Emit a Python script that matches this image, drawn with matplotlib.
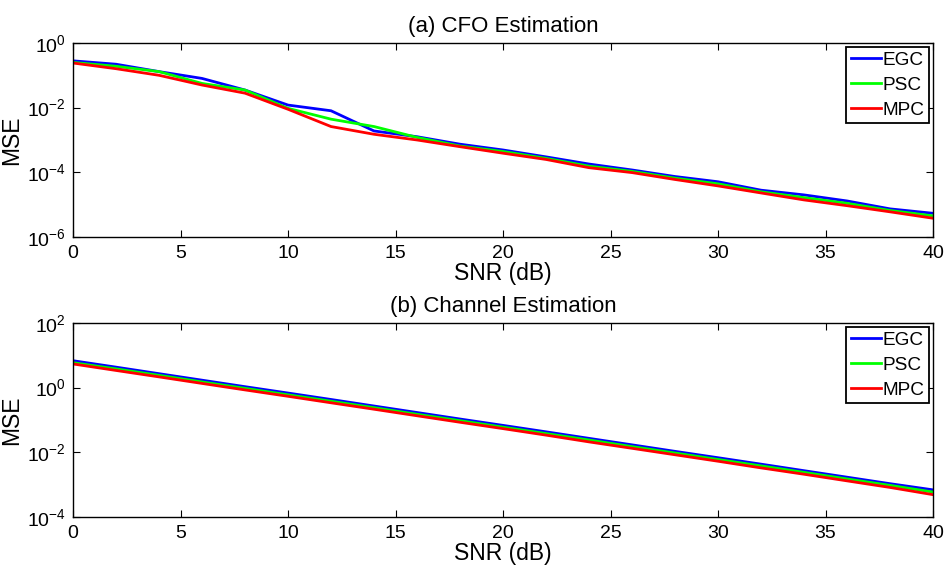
import matplotlib
matplotlib.use("Agg")
import matplotlib.pyplot as plt

plt.rcParams['font.family'] = ['Liberation Sans', 'DejaVu Sans']
plt.rcParams['mathtext.fontset'] = 'custom'
plt.rcParams['mathtext.rm'] = 'Liberation Sans'
plt.rcParams['mathtext.it'] = 'Liberation Sans'

snr = [0, 2, 4, 6, 8, 10, 12, 14, 16, 18, 20, 22, 24, 26, 28, 30, 32, 34, 36, 38, 40]

# (a) CFO estimation MSE
cfo_egc = [0.28, 0.22, 0.13, 0.080, 0.035, 0.012, 0.0080, 0.0019, 0.00126, 7.4e-4, 4.9e-4,
           3.0e-4, 1.8e-4, 1.18e-4, 7.4e-5, 5.1e-5, 2.8e-5, 2.0e-5, 1.3e-5, 7.4e-6, 5.4e-6]
cfo_psc = [0.25, 0.19, 0.13, 0.056, 0.035, 0.0095, 0.0044, 0.0026, 0.0012, 6.5e-4, 4.4e-4,
           2.7e-4, 1.55e-4, 1.07e-4, 6.6e-5, 4.4e-5, 2.5e-5, 1.65e-5, 1.1e-5, 6.6e-6, 4.5e-6]
cfo_mpc = [0.24, 0.16, 0.10, 0.050, 0.028, 0.0089, 0.0026, 0.0015, 0.0010, 6.2e-4, 3.9e-4,
           2.5e-4, 1.39e-4, 9.8e-5, 6.0e-5, 3.8e-5, 2.3e-5, 1.4e-5, 9.3e-6, 6.0e-6, 3.8e-6]

# (b) Channel estimation MSE
ch_egc = [6.8, 4.3, 2.7, 1.7, 1.07, 0.68, 0.43, 0.27, 0.17, 0.107, 0.068,
          0.043, 0.027, 0.017, 0.0107, 0.0068, 0.0043, 0.0027, 0.0017, 0.00107, 0.00069]
ch_psc = [5.9, 3.8, 2.4, 1.5, 0.95, 0.60, 0.38, 0.24, 0.15, 0.095, 0.060,
          0.038, 0.024, 0.015, 0.0095, 0.0060, 0.0038, 0.0024, 0.0015, 0.00095, 0.00059]
ch_mpc = [5.4, 3.4, 2.15, 1.35, 0.85, 0.54, 0.34, 0.215, 0.135, 0.085, 0.054,
          0.034, 0.021, 0.0133, 0.0084, 0.0053, 0.0033, 0.0021, 0.00131, 0.00082, 0.00049]

series_labels = ['EGC', 'PSC', 'MPC']
series_colors = ['#0000ff', '#00ff00', '#ff0000']
xticks = [0, 5, 10, 15, 20, 25, 30, 35, 40]
yticks_a = [1e-6, 1e-4, 1e-2, 1e0]
yticklabels_a = [r'$\mathregular{10^{-6}}$', r'$\mathregular{10^{-4}}$',
                 r'$\mathregular{10^{-2}}$', r'$\mathregular{10^{0}}$']
yticks_b = [1e-4, 1e-2, 1e0, 1e2]
yticklabels_b = [r'$\mathregular{10^{-4}}$', r'$\mathregular{10^{-2}}$',
                 r'$\mathregular{10^{0}}$', r'$\mathregular{10^{2}}$']

fig = plt.figure(figsize=(9.46, 5.66), dpi=100)
ax1 = fig.add_axes([0.0772, 0.5813, 0.9091, 0.3428])
ax2 = fig.add_axes([0.0772, 0.0866, 0.9091, 0.3428])

panels = [
    (ax1, [cfo_egc, cfo_psc, cfo_mpc], '(a) CFO Estimation', (1e-6, 1e0), yticks_a, yticklabels_a),
    (ax2, [ch_egc, ch_psc, ch_mpc], '(b) Channel Estimation', (1e-4, 1e2), yticks_b, yticklabels_b),
]

for ax, data, title, ylim, yt, ytl in panels:
    for vals, lab, col in zip(data, series_labels, series_colors):
        ax.semilogy(snr, vals, color=col, lw=2.0, label=lab)
    ax.set_xlim(0, 40)
    ax.set_ylim(*ylim)
    ax.set_xticks(xticks)
    ax.set_xticklabels([str(t) for t in xticks])
    ax.set_yticks(yt)
    ax.set_yticklabels(ytl)
    ax.minorticks_off()
    ax.tick_params(which='both', direction='in', top=True, right=True,
                   length=5, width=0.8, labelsize=14, pad=5)
    ax.tick_params(axis='x', pad=6)
    for s in ax.spines.values():
        s.set_linewidth(1.0)
    ax.set_title(title, fontsize=16, pad=8)
    ax.set_xlabel('SNR (dB)', fontsize=16.5, labelpad=0)
    ax.set_ylabel('MSE', fontsize=16.5, labelpad=3)
    leg = ax.legend(loc='upper right', fontsize=13.7, frameon=True, fancybox=False,
                    edgecolor='black', framealpha=1, borderpad=0.25,
                    handlelength=1.55, handletextpad=0.1, labelspacing=0.4,
                    borderaxespad=0.2)
    leg.get_frame().set_linewidth(1.3)

fig.savefig('out.png', dpi=100)
